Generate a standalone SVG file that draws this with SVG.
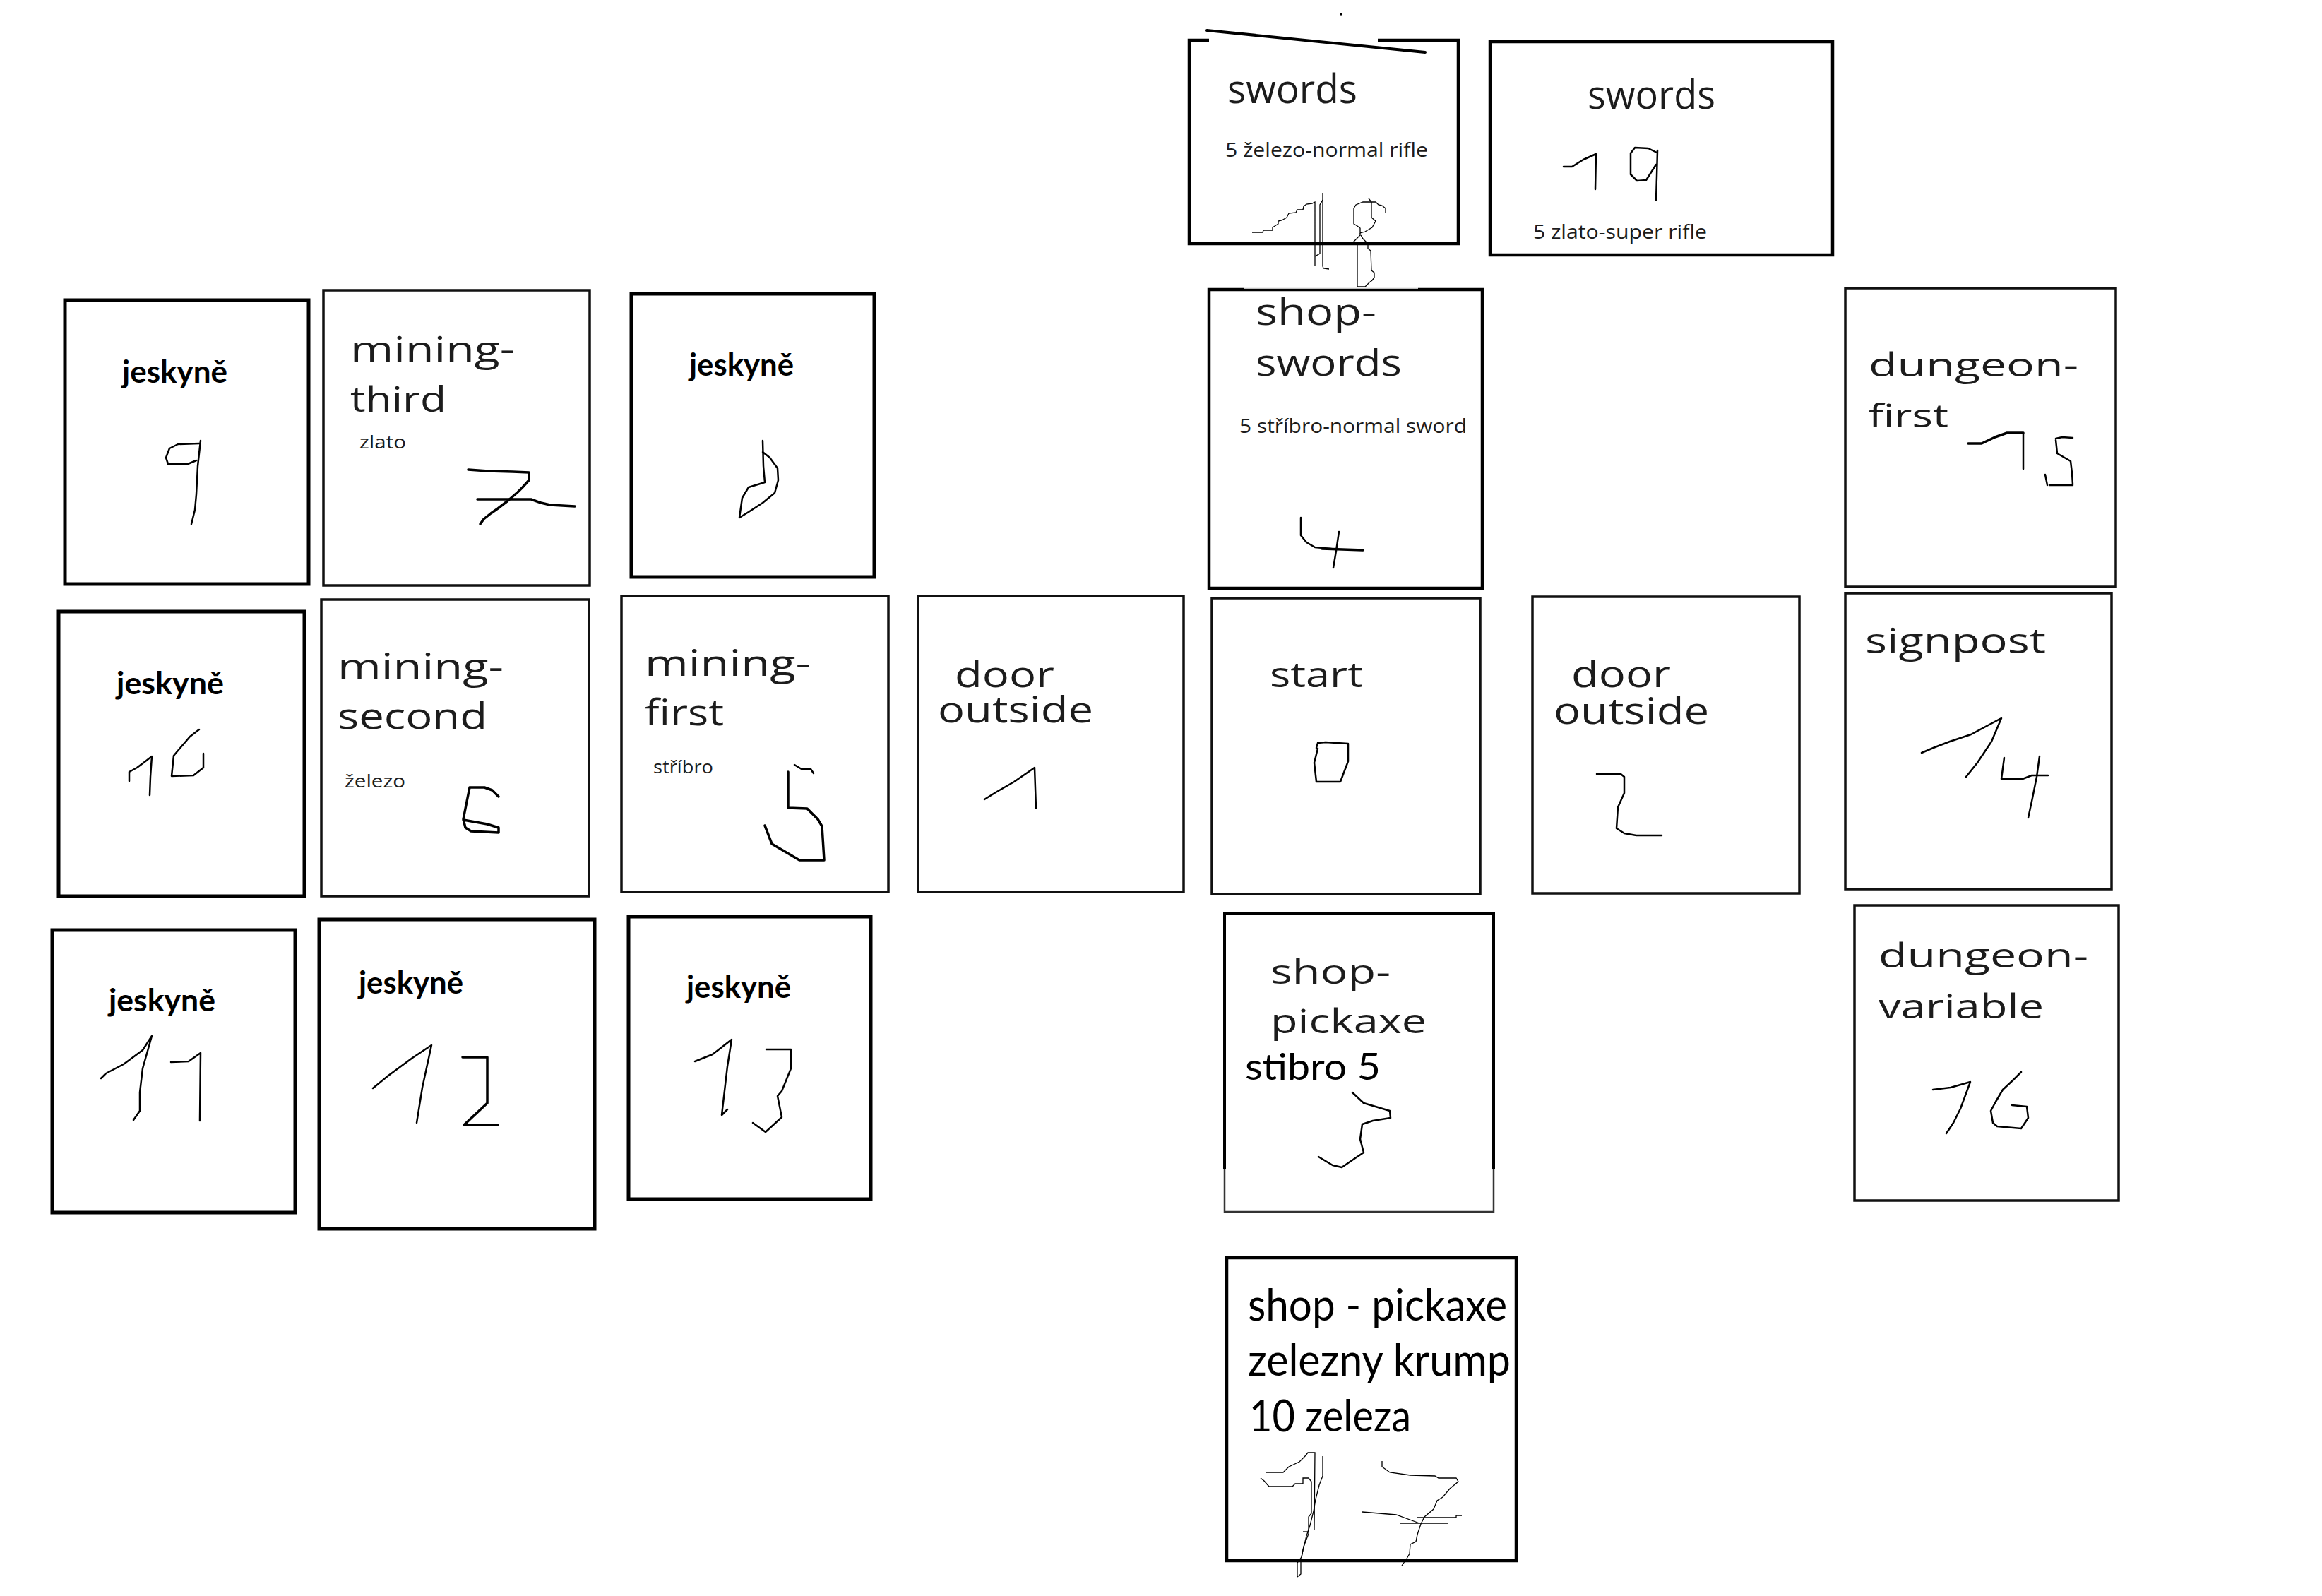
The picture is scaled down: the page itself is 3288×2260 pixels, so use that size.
<svg xmlns="http://www.w3.org/2000/svg" width="3288" height="2260" viewBox="0 0 3288 2260">
  <style>
    .room { fill: #ffffff; stroke: #111111; stroke-width: 3.5; }
    .heavy { fill: #ffffff; stroke: #000000; stroke-width: 5; }
    .mid { fill: #ffffff; stroke: #000000; stroke-width: 4.5; }
    .seg { font-family: "Open Sans", "Noto Sans", sans-serif; fill: #1c1c1c; }
    .cal { font-family: Lato, "Liberation Sans", sans-serif; fill: #000000; }
    .jk { font-family: Lato, "Liberation Sans", sans-serif; font-weight: bold; fill: #000000; }
    .hand { fill: none; stroke: #000000; stroke-width: 2.5; stroke-linecap: round; stroke-linejoin: round; }
    .bold { stroke-width: 3.5; }
    .pix { fill: none; stroke: #000000; stroke-width: 1.3; stroke-linejoin: miter; }
  </style>
  <rect x="0" y="0" width="3288" height="2260" fill="#ffffff"/>

  <!-- room map has no links between rooms -->
  <g id="connectors"></g>

  <!-- room 18: swords (rifle shop) -->
  <g id="room-18">
    <path d="M1712,57 H1684 V345 H2065 V57 H1951" fill="#ffffff" stroke="#000" stroke-width="4.5"/>
    <line x1="1709" y1="43" x2="2018" y2="74" stroke="#000" stroke-width="4" stroke-linecap="round"/>
    <circle cx="1899" cy="20" r="1.8" fill="#000"/>
    <text class="seg" x="1738" y="146" font-size="57" textLength="184" lengthAdjust="spacingAndGlyphs">swords</text>
    <text class="seg" x="1735" y="222" font-size="28" textLength="287" lengthAdjust="spacingAndGlyphs">5 železo-normal rifle</text>
    <path class="pix" d="M1773,329 L1788,329 L1789,326 L1802,326 L1802,322 L1810,317 L1810,313 L1815,312 L1822,308 L1825,302 L1835,301 L1837,297 L1845,297 L1846,292 L1850,289 L1858,288 L1862,286 L1862,377"/>
    <path class="pix" d="M1873,273 L1873,377 L1874,380 L1882,381"/>
    <path class="pix" d="M1873,283 L1869,290 L1869,359 L1862,363"/>
    <path class="pix" d="M1938,281 L1942,286 L1930,286 L1920,290 L1917,295 L1917,317 L1922,320 L1926,323 L1926,330 L1933,328 L1943,322 L1948,313 L1942,308 L1942,286 L1948,286 L1952,290 L1957,291 L1962,295 L1962,302"/>
    <path class="pix" d="M1926,330 L1926,333 L1917,342 L1922,347 L1922,406 L1933,406 L1939,400 L1943,397 L1946,393 L1946,386 L1942,383 L1941,355 L1937,352 L1937,345 L1930,338 L1927,333"/>
  </g>

  <!-- room 19: swords (super rifle) -->
  <g id="room-19">
    <rect class="mid" x="2110" y="59" width="485" height="302"/>
    <text class="seg" x="2248" y="154" font-size="56" textLength="181" lengthAdjust="spacingAndGlyphs">swords</text>
    <path class="hand" d="M2214,236 L2226,236 L2242,226 L2260,218 L2259,268"/>
    <path class="hand" d="M2346,216 L2334,210 L2315,209 L2309,217 L2309,247 L2318,256 L2331,255 L2345,233 M2347,213 L2346,250 L2345,283"/>
    <text class="seg" x="2171" y="338" font-size="28" textLength="246" lengthAdjust="spacingAndGlyphs">5 zlato-super rifle</text>
  </g>

  <!-- room 9: cave -->
  <g id="room-9">
    <rect class="heavy" x="92" y="425" width="345" height="402"/>
    <text class="jk" x="173" y="542" font-size="44" textLength="149" lengthAdjust="spacingAndGlyphs">jeskyně</text>
    <path class="hand" d="M282,628 L252,629 L240,635 L235,648 L238,657 L266,657 L278,652 M284,624 L280,660 L278,700 L276,722 L271,742"/>
  </g>

  <!-- room 7: mining third -->
  <g id="room-7">
    <rect class="room" x="458" y="411" width="377" height="418"/>
    <text class="seg" x="496" y="512" font-size="50" textLength="233" lengthAdjust="spacingAndGlyphs">mining-</text>
    <text class="seg" x="496" y="583" font-size="50" textLength="136" lengthAdjust="spacingAndGlyphs">third</text>
    <text class="seg" x="509" y="635" font-size="25" textLength="66" lengthAdjust="spacingAndGlyphs">zlato</text>
    <path class="hand bold" d="M663,665 L691,667 L726,668 L749,669 L749,680 L740,690 L733,697 L718,710 L705,720 L695,727 L685,735 L680,742"/>
    <path class="hand bold" d="M676,707 L752,707 L766,712 L779,715 L814,717"/>
  </g>

  <!-- room 8: cave -->
  <g id="room-8">
    <rect class="heavy" x="894" y="416" width="344" height="401"/>
    <text class="jk" x="976" y="532" font-size="44" textLength="148" lengthAdjust="spacingAndGlyphs">jeskyně</text>
    <path class="hand" d="M1080,624 L1081,660 L1083,683 L1060,690 L1051,705 L1047,733 L1060,725 L1080,712 L1097,698 L1102,680 L1101,663 L1090,648 L1080,640"/>
  </g>

  <!-- room 4: shop swords -->
  <g id="room-4">
    <rect class="mid" x="1712" y="410" width="387" height="423" stroke-width="4"/>
    <line x1="1762" y1="408" x2="2008" y2="408" stroke="#ffffff" stroke-width="1.5"/>
    <text class="seg" x="1778" y="460" font-size="51" textLength="171" lengthAdjust="spacingAndGlyphs">shop-</text>
    <text class="seg" x="1778" y="532" font-size="51" textLength="207" lengthAdjust="spacingAndGlyphs">swords</text>
    <text class="seg" x="1755" y="613" font-size="28" textLength="322" lengthAdjust="spacingAndGlyphs">5 stříbro-normal sword</text>
    <path class="hand" d="M1842,733 L1842,758 L1850,768 L1862,775 L1885,777"/>
    <path class="hand bold" d="M1872,777 L1930,779"/>
    <path class="hand" d="M1896,753 L1892,780 L1888,804"/>
  </g>

  <!-- room 15: dungeon first -->
  <g id="room-15">
    <rect class="room" x="2613" y="408" width="383" height="423"/>
    <text class="seg" x="2646" y="533" font-size="46" textLength="297" lengthAdjust="spacingAndGlyphs">dungeon-</text>
    <text class="seg" x="2646" y="605" font-size="46" textLength="113" lengthAdjust="spacingAndGlyphs">first</text>
    <path class="hand bold" d="M2787,628 L2806,628 L2825,619 L2842,613 L2865,613"/>
    <path class="hand" d="M2865,613 L2865,664"/>
    <path class="hand" d="M2911,621 L2920,619 L2935,620 M2911,623 L2913,642 L2932,653 L2934,670 L2935,686 M2902,687 L2935,687 M2896,672 L2899,687"/>
  </g>

  <!-- room 10: cave -->
  <g id="room-10">
    <rect class="heavy" x="83" y="866" width="348" height="403"/>
    <text class="jk" x="165" y="983" font-size="44" textLength="152" lengthAdjust="spacingAndGlyphs">jeskyně</text>
    <path class="hand" d="M183,1106 L183,1093 L194,1087 L206,1078 L215,1071 L213,1100 L212,1126"/>
    <path class="hand" d="M282,1033 L269,1043 L257,1057 L246,1070 L243,1099 L274,1098 L288,1087 L288,1067"/>
  </g>

  <!-- room 6: mining second -->
  <g id="room-6">
    <rect class="room" x="455" y="849" width="379" height="420"/>
    <text class="seg" x="478" y="962" font-size="52" textLength="235" lengthAdjust="spacingAndGlyphs">mining-</text>
    <text class="seg" x="478" y="1032" font-size="52" textLength="212" lengthAdjust="spacingAndGlyphs">second</text>
    <text class="seg" x="488" y="1115" font-size="25" textLength="86" lengthAdjust="spacingAndGlyphs">železo</text>
    <path class="hand bold" d="M706,1128 L697,1119 L686,1115 L665,1115 L660,1140 L656,1160 L659,1172 L667,1177 L706,1179 L706,1172 L690,1167 L656,1161"/>
  </g>

  <!-- room 5: mining first -->
  <g id="room-5">
    <rect class="room" x="880" y="844" width="378" height="419"/>
    <text class="seg" x="913" y="957" font-size="52" textLength="235" lengthAdjust="spacingAndGlyphs">mining-</text>
    <text class="seg" x="913" y="1027" font-size="52" textLength="112" lengthAdjust="spacingAndGlyphs">first</text>
    <text class="seg" x="925" y="1095" font-size="25" textLength="85" lengthAdjust="spacingAndGlyphs">stříbro</text>
    <path class="hand" d="M1125,1083 L1135,1089 L1148,1089 L1152,1095"/>
    <path class="hand bold" d="M1116,1093 L1116,1144 L1143,1145 L1158,1160 L1164,1170 L1167,1218 L1132,1218 L1110,1205 L1093,1195 L1083,1169"/>
  </g>

  <!-- room 1: door outside (west) -->
  <g id="room-1">
    <rect class="room" x="1300" y="844" width="376" height="419"/>
    <text class="seg" font-size="52">
      <tspan x="1352" y="973" textLength="141" lengthAdjust="spacingAndGlyphs">door</tspan>
      <tspan x="1328" y="1023" textLength="220" lengthAdjust="spacingAndGlyphs">outside</tspan>
    </text>
    <path class="hand" d="M1394,1132 L1410,1122 L1436,1107 L1465,1087 L1467,1144"/>
  </g>

  <!-- room 0: start -->
  <g id="room-0">
    <rect class="room" x="1716" y="847" width="380" height="419"/>
    <text class="seg" x="1798" y="973" font-size="50" textLength="132" lengthAdjust="spacingAndGlyphs">start</text>
    <path class="hand" d="M1864,1059 L1866,1052 L1877,1051 L1909,1053 L1909,1078 L1898,1107 L1864,1107 L1861,1080 L1866,1060"/>
  </g>

  <!-- room 2: door outside (east) -->
  <g id="room-2">
    <rect class="room" x="2170" y="845" width="378" height="420"/>
    <text class="seg" font-size="51">
      <tspan x="2225" y="973" textLength="141" lengthAdjust="spacingAndGlyphs">door</tspan>
      <tspan x="2200" y="1025" textLength="220" lengthAdjust="spacingAndGlyphs">outside</tspan>
    </text>
    <path class="hand" d="M2261,1096 L2295,1096 L2300,1100 L2300,1123 L2291,1143 L2289,1173 L2300,1180 L2317,1183 L2353,1183"/>
  </g>

  <!-- room 14: signpost -->
  <g id="room-14">
    <rect class="room" x="2613" y="840" width="377" height="419"/>
    <text class="seg" x="2641" y="925" font-size="50" textLength="256" lengthAdjust="spacingAndGlyphs">signpost</text>
    <path class="hand" d="M2721,1066 L2740,1058 L2761,1050 L2791,1040 L2834,1017 L2820,1050 L2800,1080 L2784,1100"/>
    <path class="hand" d="M2838,1073 L2834,1103 L2864,1103 L2877,1098 L2900,1098"/>
    <path class="hand" d="M2888,1071 L2884,1100 L2878,1130 L2872,1158"/>
  </g>

  <!-- room 11: cave -->
  <g id="room-11">
    <rect class="heavy" x="74" y="1317" width="344" height="400"/>
    <text class="jk" x="154" y="1432" font-size="44" textLength="151" lengthAdjust="spacingAndGlyphs">jeskyně</text>
    <path class="hand" d="M143,1527 L150,1520 L175,1507 L202,1487 L215,1467 L202,1513 L198,1547 L198,1573 L189,1586"/>
    <path class="hand" d="M242,1504 L267,1503 L284,1491 L283,1587"/>
  </g>

  <!-- room 12: cave -->
  <g id="room-12">
    <rect class="heavy" x="452" y="1302" width="390" height="438"/>
    <text class="jk" x="508" y="1407" font-size="44" textLength="148" lengthAdjust="spacingAndGlyphs">jeskyně</text>
    <path class="hand" d="M528,1541 L550,1523 L584,1498 L611,1480 L598,1540 L590,1590"/>
    <path class="hand bold" d="M655,1497 L690,1497 L690,1562 L657,1593 L705,1593"/>
  </g>

  <!-- room 13: cave -->
  <g id="room-13">
    <rect class="heavy" x="890" y="1298" width="343" height="400"/>
    <text class="jk" x="972" y="1413" font-size="44" textLength="148" lengthAdjust="spacingAndGlyphs">jeskyně</text>
    <path class="hand" d="M984,1503 L1009,1493 L1036,1472 L1030,1510 L1022,1579 L1030,1571"/>
    <path class="hand" d="M1085,1486 L1120,1486 L1120,1513 L1107,1545 L1101,1552 L1107,1582 L1084,1603 L1066,1590"/>
  </g>

  <!-- room 3: shop pickaxe -->
  <g id="room-3">
    <rect x="1734" y="1293" width="381" height="423" fill="#ffffff" stroke="#333" stroke-width="2.5"/>
    <path d="M1734,1655 V1293 H2115 V1655" fill="none" stroke="#000" stroke-width="4"/>
    <text class="seg" x="1799" y="1393" font-size="48" textLength="170" lengthAdjust="spacingAndGlyphs">shop-</text>
    <text class="seg" x="1799" y="1463" font-size="48" textLength="221" lengthAdjust="spacingAndGlyphs">pickaxe</text>
    <text class="cal" x="1763" y="1529" font-size="52" textLength="192" lengthAdjust="spacingAndGlyphs">stibro 5</text>
    <path class="hand" d="M1915,1547 L1931,1562 L1968,1573 L1969,1583 L1944,1587 L1929,1592 L1926,1613 L1931,1632 L1919,1640 L1900,1653 L1887,1650 L1867,1638"/>
  </g>

  <!-- room 16: dungeon variable -->
  <g id="room-16">
    <rect class="room" x="2626" y="1282" width="374" height="418"/>
    <text class="seg" x="2660" y="1370" font-size="48" textLength="297" lengthAdjust="spacingAndGlyphs">dungeon-</text>
    <text class="seg" x="2660" y="1442" font-size="48" textLength="234" lengthAdjust="spacingAndGlyphs">variable</text>
    <path class="hand" d="M2737,1543 L2762,1540 L2790,1532 L2776,1570 L2766,1590 L2756,1605"/>
    <path class="hand" d="M2862,1518 L2850,1530 L2836,1543 L2826,1560 L2819,1573 L2822,1590 L2828,1595 L2862,1598 L2872,1583 L2870,1567 L2849,1565"/>
  </g>

  <!-- room 17: shop pickaxe (iron) -->
  <g id="room-17">
    <rect class="mid" x="1737" y="1781" width="410" height="429"/>
    <text class="cal" x="1767" y="1870" font-size="62" textLength="367" lengthAdjust="spacingAndGlyphs">shop - pickaxe</text>
    <text class="cal" x="1767" y="1948" font-size="62" textLength="372" lengthAdjust="spacingAndGlyphs">zelezny krump</text>
    <text class="cal" x="1769" y="2027" font-size="62" textLength="229" lengthAdjust="spacingAndGlyphs">10 zeleza</text>
    <path class="pix" d="M1793,2085 L1817,2085 L1825,2077 L1840,2070 L1848,2062 L1852,2057 L1862,2057 L1861,2167"/>
    <path class="pix" d="M1785,2093 L1790,2097 L1797,2105 L1830,2105 L1834,2101 L1845,2101 L1845,2093 L1853,2093 L1857,2098 L1857,2143 L1853,2148 L1853,2172 L1846,2190 L1843,2205 L1837,2213 L1837,2233 L1842,2229 L1842,2212"/>
    <path class="pix" d="M1873,2062 L1873,2090 L1868,2103 L1863,2123 L1860,2140 L1855,2160 L1850,2175 L1845,2195 L1843,2205"/>
    <path class="pix" d="M1845,2169 L1853,2169"/>
    <path class="pix" d="M1957,2069 L1957,2077 L1968,2085 L1997,2089 L2032,2090 L2037,2093 L2062,2093 L2065,2098 L2053,2108 L2043,2120 L2035,2125 L2030,2137 L2017,2148 L2012,2158 L2007,2173 L2005,2183 L1997,2187 L1996,2200 L1992,2207 L1985,2217"/>
    <path class="pix" d="M1929,2141 L1977,2145 L2010,2157"/>
    <path class="pix" d="M1982,2157 L2050,2157"/>
    <path class="pix" d="M2007,2149 L2062,2149 L2062,2146 L2070,2146"/>
  </g>
</svg>
